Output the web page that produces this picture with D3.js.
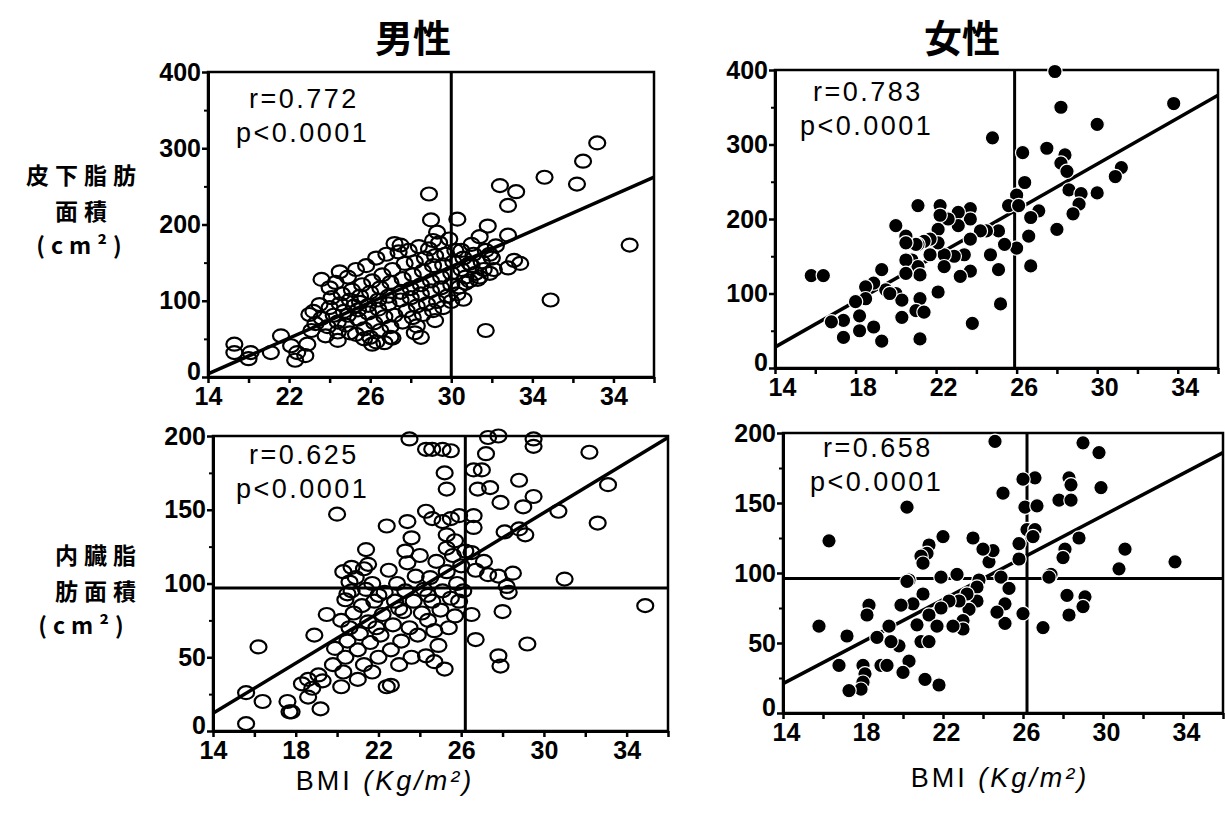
<!DOCTYPE html>
<html>
<head>
<meta charset="utf-8">
<script src="https://cdn.jsdelivr.net/npm/d3@7"></script>
<style>
  body { margin: 0; background: #fff; }
  text { font-family: "Liberation Sans", Arial, sans-serif; }
</style>
</head>
<body>
<div class="chart"></div>
<script>
// BMI vs fat area, [bmi, cm2]
var maleSubcut = [
  [33.2,307],[32.5,283],[32.2,253],[30.6,262],[28.4,251],[29.2,243],[28.8,225],[24.9,240],[25.0,206],[26.3,207],
  [27.8,198],[34.8,173],[28.8,186],[30.9,101],[27.7,61],[24.5,52],[29.1,153],[29.4,149],[28.8,143],[27.9,136],
  [27.3,128],[26.6,102],[26.0,99],[26.7,123],[26.9,149],[27.4,184],[25.1,179],[25.3,190],[23.2,175],[23.5,173],
  [19.6,128],[20.5,138],[19.0,82],[15.3,43],[15.3,32],[16.1,32],[16.0,24],[17.1,32],[17.6,54],[18.1,41],
  [18.4,32],[18.3,22],[18.8,28],[18.9,43],[20.4,48],[21.0,58],[21.7,50],[22.1,43],[22.7,45],[23.0,52],
  [19.3,70],[19.2,86],[19.5,95],[19.1,61],[19.6,77],[19.9,66],[20.0,91],[20.1,104],[19.8,54],[20.2,81],
  [20.0,117],[20.4,72],[20.5,96],[20.6,109],[20.3,124],[20.7,86],[20.4,59],[20.9,81],[21.0,101],[21.1,114],
  [20.9,131],[21.2,93],[20.8,68],[21.3,56],[21.4,88],[21.5,106],[21.6,121],[21.3,141],[21.4,76],[21.7,63],
  [21.5,98],[21.9,94],[22.0,111],[22.1,126],[21.8,146],[21.9,84],[22.2,71],[22.0,52],[22.4,101],[22.5,117],
  [22.6,134],[22.3,156],[22.4,89],[22.7,79],[22.5,61],[22.3,46],[22.9,106],[23.0,124],[23.1,141],[22.8,161],
  [22.9,96],[23.2,81],[23.0,66],[23.1,51],[23.5,111],[23.6,129],[23.7,149],[23.4,164],[23.5,101],[23.8,87],
  [23.6,72],[24.0,116],[24.1,134],[24.2,151],[23.9,166],[24.0,104],[24.3,93],[24.1,78],[24.2,58],[24.5,121],
  [24.6,139],[24.7,156],[24.4,171],[24.5,109],[24.8,96],[24.6,82],[24.3,67],[25.0,126],[25.1,146],[25.2,159],
  [24.9,168],[25.0,113],[25.3,99],[25.1,87],[25.2,74],[25.5,131],[25.6,147],[25.7,161],[25.4,176],[25.5,117],
  [25.8,106],[25.6,91],[26.0,136],[26.1,151],[26.2,166],[25.9,181],[26.0,121],[26.3,109],[26.5,141],[26.6,156],
  [26.7,131],[26.4,118],[26.5,166],[27.0,146],[27.1,161],[27.2,136],[26.9,126],[27.0,174],[27.5,151],[27.6,141],
  [27.7,166],[27.4,131],[28.0,156],[28.1,141],[28.2,172],[27.9,161]
];
var femaleSubcut = [
  [27.9,398],[28.2,350],[33.8,355],[30.0,327],[24.8,309],[27.5,295],[26.3,289],[28.4,286],[28.2,275],[28.5,264],
  [26.4,249],[31.2,269],[30.9,257],[28.6,239],[29.2,234],[30.0,235],[29.1,220],[28.8,207],[28.0,186],[27.1,211],
  [26.7,202],[26.6,177],[26.7,137],[26.0,232],[25.6,218],[26.1,218],[26.0,161],[25.4,166],[25.1,184],[25.1,132],
  [25.2,86],[24.5,184],[24.2,184],[24.7,152],[23.8,60],[23.7,130],[23.2,123],[23.7,214],[23.7,200],[23.7,173],
  [23.1,209],[23.1,191],[23.4,152],[22.9,150],[22.4,152],[22.6,200],[22.2,218],[22.2,205],[22.1,186],[22.1,168],
  [22.4,136],[22.1,102],[21.7,152],[21.7,173],[21.4,170],[21.1,218],[21.1,166],[20.8,145],[21.1,136],[21.2,125],
  [21.0,166],[20.5,177],[20.5,168],[20.5,145],[20.5,127],[20.0,191],[20.0,100],[20.3,91],[21.2,93],[21.0,77],
  [21.4,75],[20.3,68],[21.2,39],[19.3,132],[19.5,105],[19.7,100],[18.9,114],[18.5,109],[18.5,93],[18.0,89],
  [18.2,70],[18.2,50],[18.9,55],[17.4,64],[16.8,62],[17.4,41],[19.3,36],[15.8,124],[16.4,124]
];
var maleVisceral = [
  [32.2,189],[33.1,167],[32.6,141],[30.7,149],[31.0,103],[34.9,85],[29.2,59],[27.8,51],[27.9,44],[28.8,170],
  [29.5,159],[29.0,152],[29.1,133],[28.8,137],[28.1,135],[27.9,155],[28.5,107],[28.2,98],[28.3,94],[28.0,81],
  [26.7,62],[26.5,79],[27.4,165],[26.8,164],[27.0,177],[26.6,177],[27.2,188],[27.3,199],[27.8,200],[29.5,198],
  [29.5,193],[23.5,198],[24.3,191],[24.6,191],[25.1,191],[25.5,190],[25.2,175],[25.3,164],[20.0,147],[22.4,139],
  [23.4,142],[23.6,131],[23.3,122],[24.3,149],[24.6,144],[25.1,142],[25.5,144],[25.9,146],[26.6,146],[26.6,138],
  [25.3,133],[25.3,124],[25.7,129],[26.2,122],[26.5,121],[27.1,115],[27.3,106],[27.8,105],[26.7,109],[21.4,123],
  [21.5,113],[20.3,108],[20.7,111],[20.7,95],[20.5,93],
  [15.6,5],[15.6,26],[16.2,57],[16.4,20],[17.8,13],[17.6,20],[18.3,32],[18.6,35],[18.6,23],[19.2,15],
  [19.3,34],[19.1,38],[19.5,79],[18.9,65],[19.8,45],[19.9,56],[17.7,13],[18.8,29],
  [20.2,30],[20.3,40],[20.4,50],[20.5,61],[20.6,70],[20.8,80],[20.2,75],[20.4,89],[20.6,101],[21.0,35],
  [21.0,55],[21.1,66],[21.2,85],[21.3,45],[21.4,96],[20.9,104],[21.5,74],[21.6,60],[21.7,40],[21.8,88],
  [21.9,70],[21.7,100],[22.0,50],[22.1,65],[22.2,79],[22.3,94],[22.4,30],[22.5,109],[22.6,55],[22.7,72],
  [22.8,88],[22.9,100],[23.0,45],[23.1,61],[23.2,81],[23.3,95],[23.4,114],[23.5,70],[23.6,50],[23.7,88],
  [23.8,105],[23.9,65],[24.0,119],[24.1,80],[24.2,96],[22.6,31],[24.3,51],[24.4,75],[24.5,104],[24.6,88],
  [24.7,68],[24.8,115],[24.9,58],[25.0,82],[25.1,95],[25.2,42],[25.3,108],[25.4,70],[25.5,90],[25.6,119],
  [25.7,78],[25.8,100],[25.9,88],[26.0,112],[26.1,95],[24.7,47],[22.0,92],[21.3,110],[23.0,83],[24.4,92]
];
var femaleVisceral = [
  [24.6,194],[29.0,193],[29.8,186],[29.9,161],[28.3,168],[28.4,163],[27.8,152],[28.4,152],[26.6,168],[26.0,167],
  [25.0,157],[20.2,147],[26.1,147],[26.7,148],[26.2,131],[26.6,131],[26.5,126],[28.8,125],[28.1,117],[28.0,111],
  [31.1,117],[30.8,103],[33.6,108],[27.4,99],[27.3,97],[28.2,84],[29.1,83],[29.0,76],[28.3,70],[27.0,61],
  [26.0,71],[25.1,64],[25.1,78],[24.7,72],[24.9,97],[25.3,89],[25.8,121],[25.8,110],[24.3,108],[24.5,116],
  [24.0,117],[23.5,125],[23.8,95],[23.7,90],[23.7,80],[23.3,74],[23.2,85],[22.7,99],[22.8,80],[23.0,66],
  [23.0,60],[22.5,62],[22.3,80],[21.9,75],[22.0,126],[21.9,97],[21.3,120],[21.2,114],[20.9,112],[21.0,107],
  [20.3,95],[21.0,85],[20.5,78],[21.3,70],[21.7,62],[20.7,63],[20.9,51],[21.3,51],[19.9,77],[19.8,48],
  [19.3,62],[18.7,54],[19.4,51],[20.3,37],[20.0,29],[18.9,34],[19.2,34],[21.1,24],[21.8,20],[18.3,77],
  [18.2,70],[18.0,34],[18.1,28],[18.0,22],[17.9,17],[17.3,16],[16.8,34],[17.2,55],[15.8,62],[16.3,123],
  [20.2,94]
];

// regression lines, [bmi, cm2] at both ends
var maleSubcutFit = [[14, 4], [36, 262]];
var femaleSubcutFit = [[14, 28], [36, 366]];
var maleVisceralFit = [[14, 12], [36, 199]];
var femaleVisceralFit = [[14, 21], [36, 186]];

var statsText = [["r=0.772", "p<0.0001"], ["r=0.783", "p<0.0001"], ["r=0.625", "p<0.0001"], ["r=0.658", "p<0.0001"]];

var xTickValues = [14, 18, 22, 26, 30, 34];
var xTickLabelsMaleTop = ["14", "22", "26", "30", "34", "34"];
var xTickLabels = ["14", "18", "22", "26", "30", "34"];
var yTicksSubcut = [0, 100, 200, 300, 400];
var yTicksVisceral = [0, 50, 100, 150, 200];

var width = 1225, height = 815;

var svg = d3.select(".chart").append("svg")
  .attr("width", width)
  .attr("height", height)
  .style("background", "#fff");

var panels = [
  {data: maleSubcut, fit: maleSubcutFit, stats: statsText[0], open: true, xLabels: xTickLabelsMaleTop,
   yTicks: yTicksSubcut, yMinor: 50, vLine: 26, hLine: null, labelDx: 0,
   l: 208, r: 654, t: 72, b: 377, sx: 236, sy: 108},
  {data: femaleSubcut, fit: femaleSubcutFit, stats: statsText[1], open: false, xLabels: xTickLabels,
   yTicks: yTicksSubcut, yMinor: 50, vLine: 25.9, hLine: null, labelDx: 7,
   l: 775, r: 1218, t: 70, b: 368, sx: 800, sy: 101},
  {data: maleVisceral, fit: maleVisceralFit, stats: statsText[2], open: true, xLabels: xTickLabels,
   yTicks: yTicksVisceral, yMinor: 25, vLine: 26.2, hLine: 97, labelDx: 0,
   l: 213, r: 668, t: 436, b: 731, sx: 236, sy: 464},
  {data: femaleVisceral, fit: femaleVisceralFit, stats: statsText[3], open: false, xLabels: xTickLabels,
   yTicks: yTicksVisceral, yMinor: 25, vLine: 26.2, hLine: 96, labelDx: 3,
   l: 783, r: 1223, t: 433, b: 713, sx: 810, sy: 457}
];

panels.forEach(function(p) { drawPanel(p); });

function drawPanel(p) {
  var yMax = p.yTicks[p.yTicks.length - 1];
  var x = d3.scaleLinear().domain([14, 36]).range([p.l, p.r]);
  var y = d3.scaleLinear().domain([0, yMax]).range([p.b, p.t]);
  var g = svg.append("g");

  g.append("rect")
    .attr("x", p.l).attr("y", p.t)
    .attr("width", p.r - p.l).attr("height", p.b - p.t)
    .attr("fill", "none").attr("stroke", "#000").attr("stroke-width", 2.5);

  // cut-off lines
  g.append("line")
    .attr("x1", x(p.vLine)).attr("x2", x(p.vLine))
    .attr("y1", y(0)).attr("y2", y(yMax))
    .attr("stroke", "#000").attr("stroke-width", 3);
  if (p.hLine !== null) {
    g.append("line")
      .attr("x1", x(14)).attr("x2", x(36))
      .attr("y1", y(p.hLine)).attr("y2", y(p.hLine))
      .attr("stroke", "#000").attr("stroke-width", 3);
  }

  g.append("line")
    .attr("x1", x(p.fit[0][0])).attr("y1", y(p.fit[0][1]))
    .attr("x2", x(p.fit[1][0])).attr("y2", y(p.fit[1][1]))
    .attr("stroke", "#000").attr("stroke-width", 3.5);

  if (p.open) {
    g.selectAll("ellipse").data(p.data).enter().append("ellipse")
      .attr("cx", function(d) { return x(d[0]); })
      .attr("cy", function(d) { return y(d[1]); })
      .attr("rx", 8).attr("ry", 6.5)
      .attr("fill", "none").attr("stroke", "#000").attr("stroke-width", 2.2);
  } else {
    g.selectAll("circle").data(p.data).enter().append("circle")
      .attr("cx", function(d) { return x(d[0]); })
      .attr("cy", function(d) { return y(d[1]); })
      .attr("r", 7.2)
      .attr("fill", "#000").attr("stroke", "#fff").attr("stroke-width", 1.2);
  }

  var xAxis = d3.axisBottom(x)
    .tickValues(d3.range(14, 37, 2))
    .tickSize(6).tickSizeOuter(0).tickPadding(4)
    .tickFormat(function(d) {
      var i = xTickValues.indexOf(d);
      return i < 0 ? "" : p.xLabels[i];
    });
  var gx = g.append("g")
    .attr("transform", "translate(0," + p.b + ")")
    .call(xAxis);
  gx.selectAll("text").attr("dx", p.labelDx);

  var minor = d3.range(0, yMax + 1, p.yMinor).filter(function(v) { return p.yTicks.indexOf(v) < 0; });
  g.append("g")
    .attr("transform", "translate(" + p.l + ",0)")
    .call(d3.axisLeft(y).tickValues(minor).tickSize(4).tickSizeOuter(0).tickFormat(""))
    .selectAll("line").attr("stroke-width", 2);
  var gy = g.append("g")
    .attr("transform", "translate(" + p.l + ",0)")
    .call(d3.axisLeft(y).tickValues(p.yTicks).tickSize(6).tickSizeOuter(0).tickPadding(1));
  // lift the 0 so it clears the first x label
  gy.selectAll(".tick").filter(function(d) { return d === 0; }).select("text").attr("dy", "0.1em");

  [gx, gy].forEach(function(a) {
    a.select(".domain").attr("stroke-width", 3);
    a.selectAll(".tick line").attr("stroke-width", 2.5);
    a.selectAll("text")
      .attr("font-family", "Liberation Sans, Arial, sans-serif")
      .attr("font-size", 25).attr("font-weight", "bold").attr("fill", "#000");
  });

  g.append("text").attr("x", p.sx + 13).attr("y", p.sy)
    .attr("font-size", 27).attr("letter-spacing", 2.5).text(p.stats[0]);
  g.append("text").attr("x", p.sx).attr("y", p.sy + 34)
    .attr("font-size", 27).attr("letter-spacing", 2.5).text(p.stats[1]);
}

// titles
var cjk = "'Noto Sans CJK JP', 'Noto Sans CJK SC', sans-serif";
svg.append("text").attr("x", 413).attr("y", 52).attr("text-anchor", "middle")
  .style("font-family", cjk).attr("font-size", 38).attr("font-weight", "bold").text("男性");
svg.append("text").attr("x", 962).attr("y", 52).attr("text-anchor", "middle")
  .style("font-family", cjk).attr("font-size", 38).attr("font-weight", "bold").text("女性");

// y axis titles
var yTitles = [
  {text: "皮下脂肪", x: 84, y: 184, anchor: "middle"},
  {text: "面積", x: 84, y: 220, anchor: "middle"},
  {text: "(cm²)", x: 82, y: 254, anchor: "middle"},
  {text: "内臓脂", x: 142, y: 564, anchor: "end"},
  {text: "肪面積", x: 142, y: 600, anchor: "end"},
  {text: "(cm²)", x: 84, y: 634, anchor: "middle"}
];
yTitles.forEach(function(t) {
  svg.append("text").attr("x", t.x).attr("y", t.y)
    .attr("text-anchor", t.anchor)
    .style("font-family", cjk).attr("font-size", 23).attr("font-weight", "bold")
    .attr("letter-spacing", 6).text(t.text);
});

// x axis titles
[{x: 385, y: 790}, {x: 1000, y: 787}].forEach(function(t) {
  var tx = svg.append("text").attr("x", t.x).attr("y", t.y)
    .attr("text-anchor", "middle").attr("font-size", 27).attr("letter-spacing", 3);
  tx.append("tspan").text("BMI ");
  tx.append("tspan").attr("font-style", "italic").text("(Kg/m²)");
});
</script>
</body>
</html>
